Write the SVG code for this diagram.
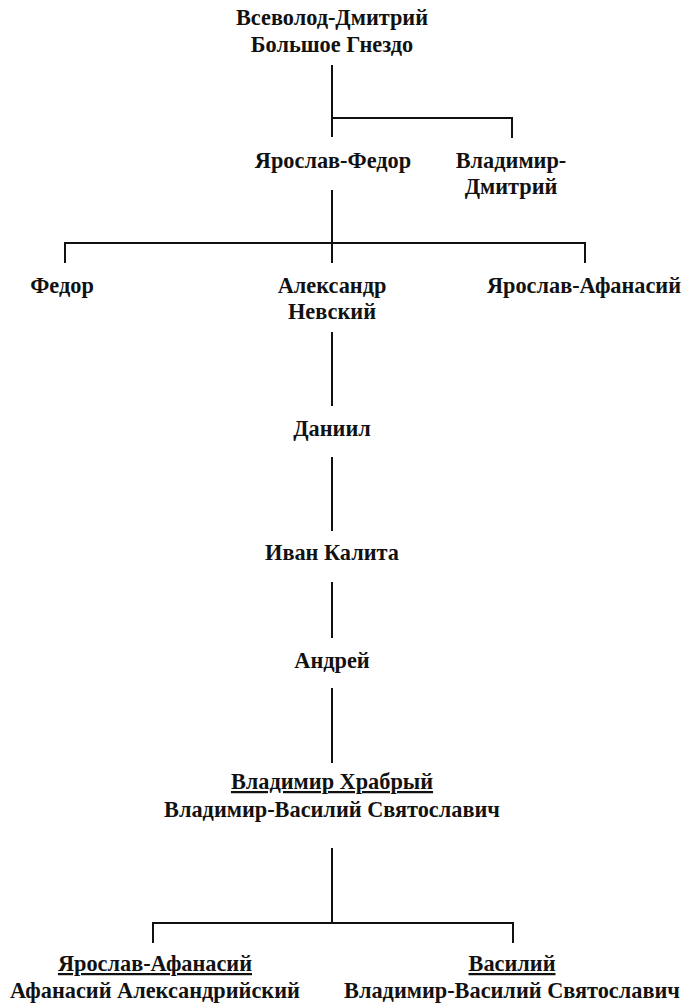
<svg xmlns="http://www.w3.org/2000/svg" width="687" height="1006" viewBox="0 0 687 1006">
<style>
text{font-family:"Liberation Serif","Times New Roman",serif;font-weight:bold;font-size:22.3px;fill:#111;text-anchor:middle}
.u{text-decoration:underline}
#connectors path{fill:none;stroke:#111;stroke-width:2}
</style>
<rect width="687" height="1006" fill="#fff"/>
<g id="connectors">
<path d="M332 65V137M332 118H512V138"/>
<path d="M332 190V263M65 263V243H585V263"/>
<path d="M332 332V406"/>
<path d="M332 457V531"/>
<path d="M332 582V638"/>
<path d="M332 688V763"/>
<path d="M332 848V923M153 943V923H513V943"/>
</g>
<g id="vsevolod"><text x="332" y="25">Всеволод-Дмитрий</text><text x="332" y="52">Большое Гнездо</text></g>
<g id="yaroslav-fedor"><text x="333" y="168">Ярослав-Федор</text></g>
<g id="vladimir-dmitry"><text x="511" y="168">Владимир-</text><text x="511" y="194">Дмитрий</text></g>
<g id="fedor"><text x="62" y="293">Федор</text></g>
<g id="alexander"><text x="332" y="293">Александр</text><text x="332" y="319">Невский</text></g>
<g id="yaroslav-afanasy"><text x="584" y="293">Ярослав-Афанасий</text></g>
<g id="daniil"><text x="332" y="436">Даниил</text></g>
<g id="ivan"><text x="332" y="560">Иван Калита</text></g>
<g id="andrey"><text x="332" y="668">Андрей</text></g>
<g id="vladimir-hrabry"><text x="332" y="789" class="u">Владимир Храбрый</text><text x="332" y="817">Владимир-Василий Святославич</text></g>
<g id="yaroslav-afanasy2"><text x="155" y="971" class="u">Ярослав-Афанасий</text><text x="155" y="998">Афанасий Александрийский</text></g>
<g id="vasily"><text x="512" y="971" class="u">Василий</text><text x="512" y="998">Владимир-Василий Святославич</text></g>
</svg>
